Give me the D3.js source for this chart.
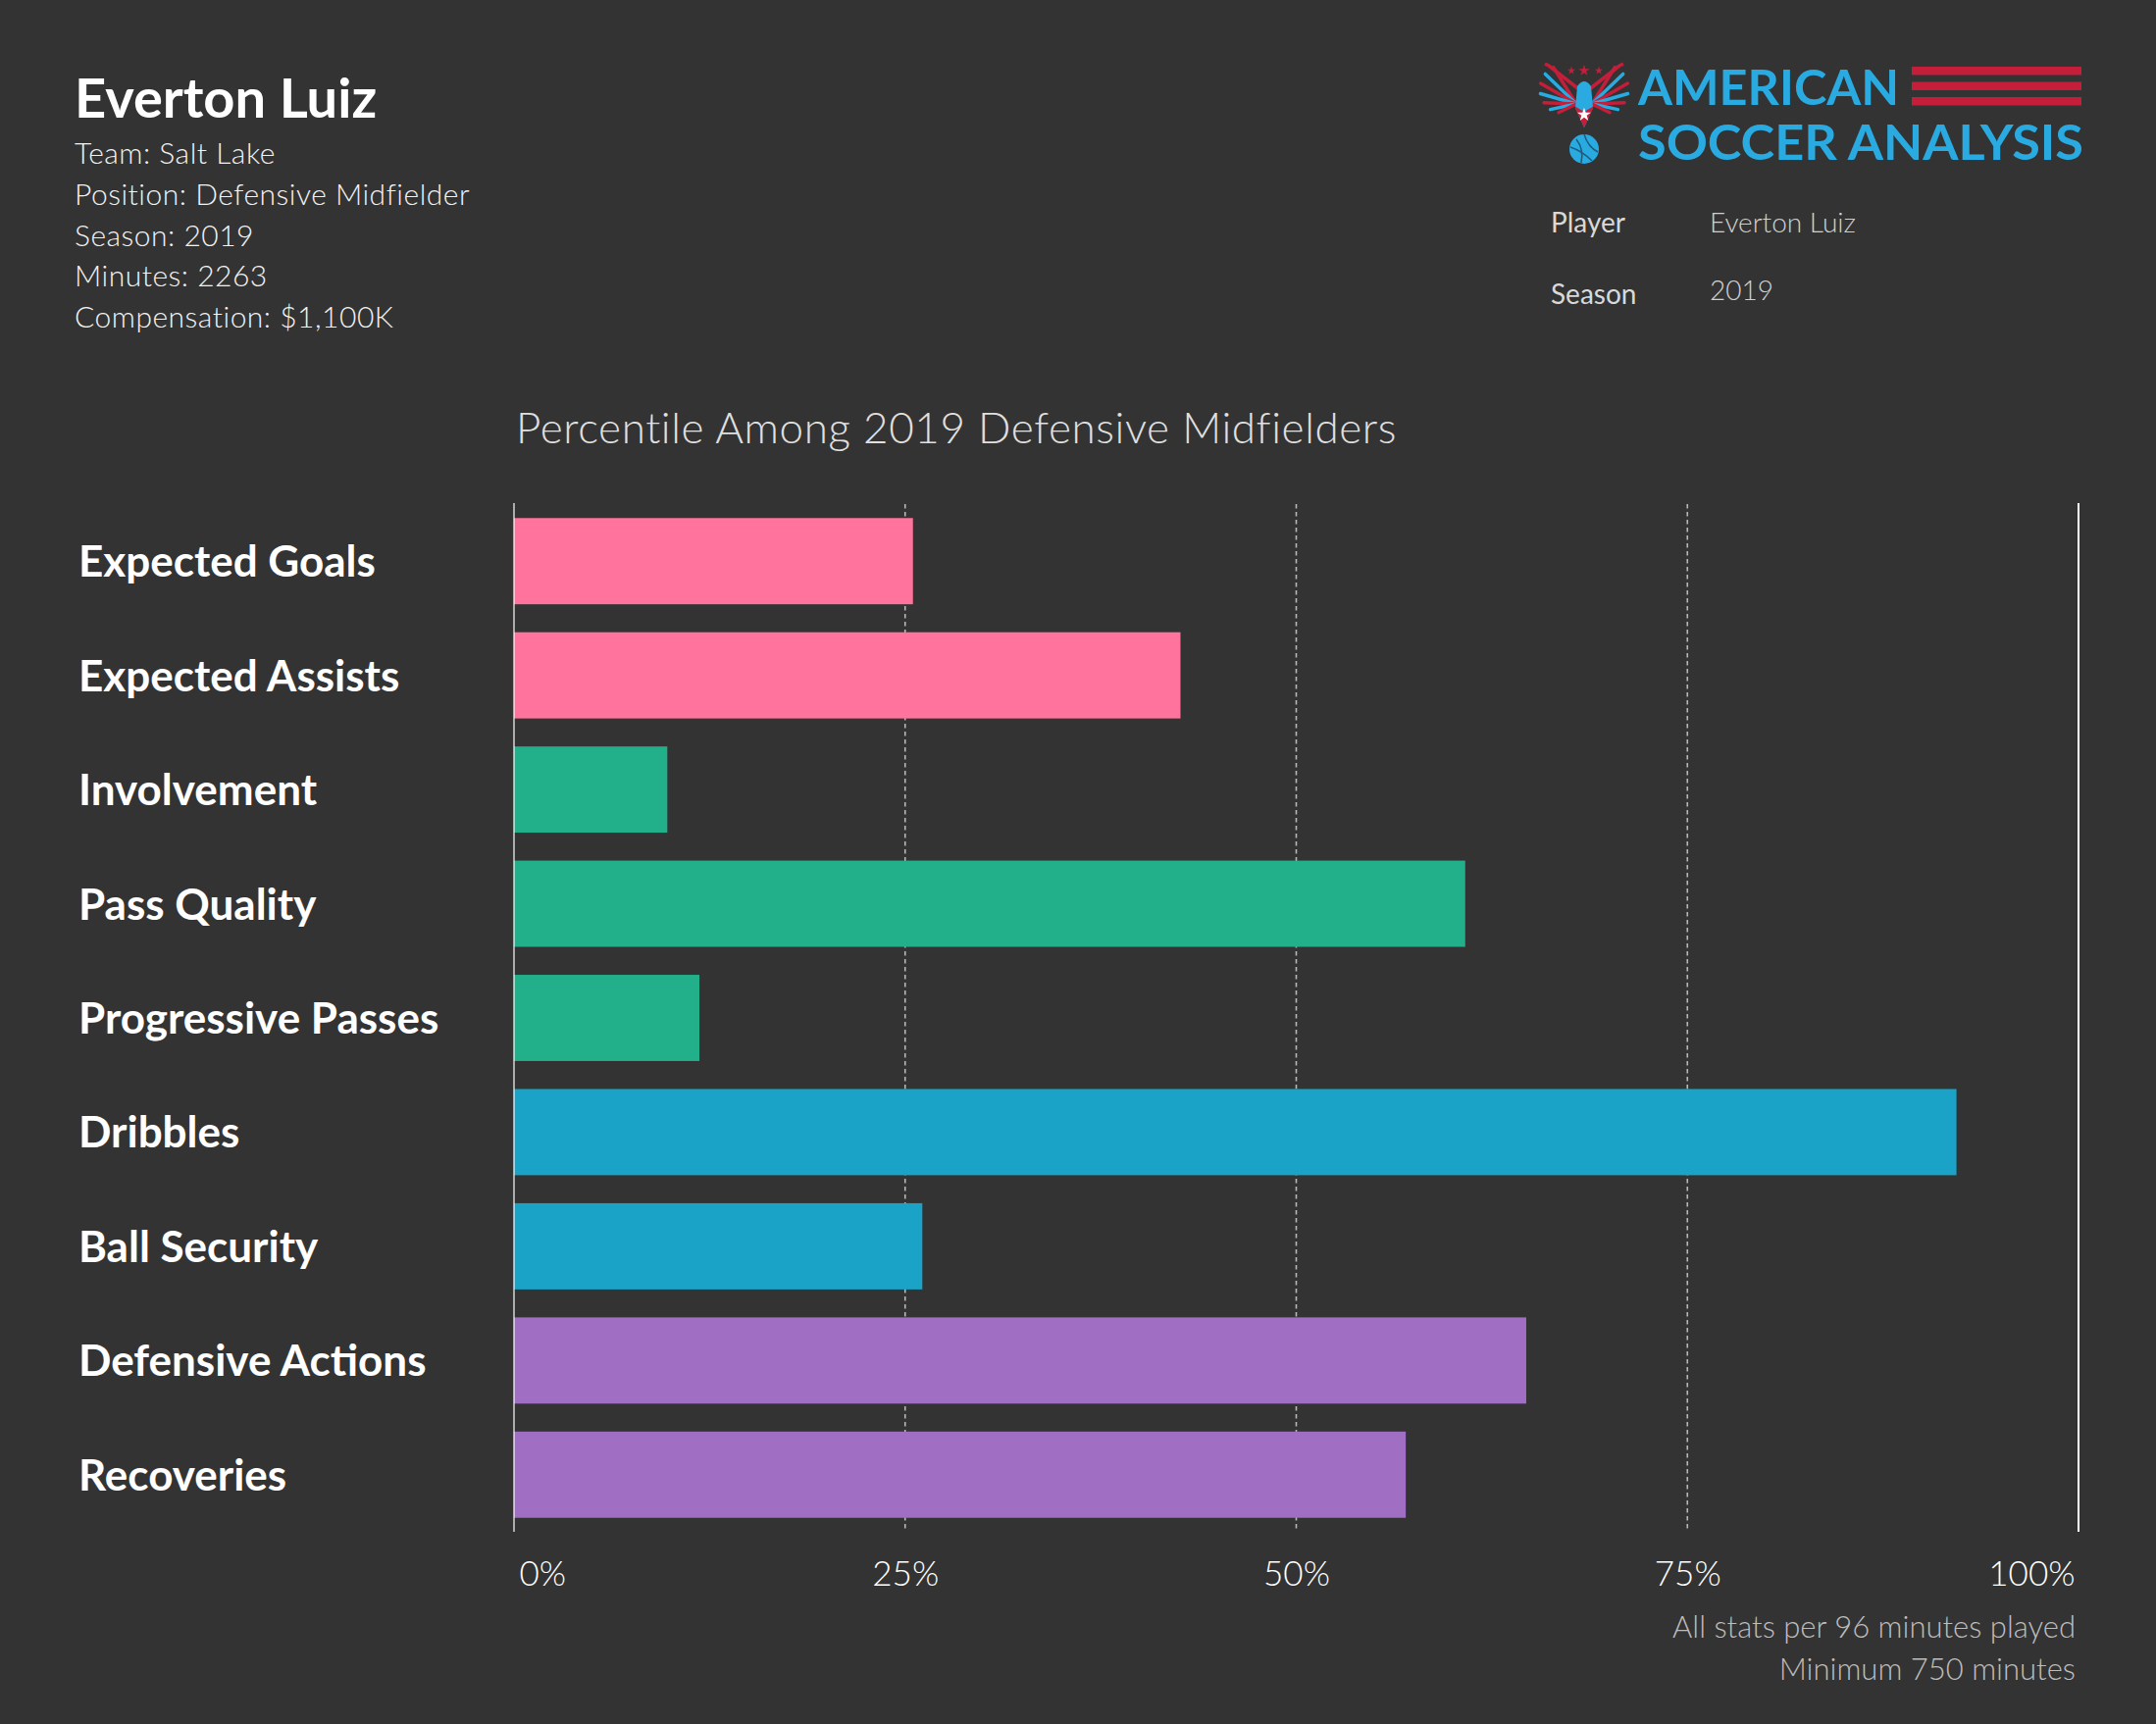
<!DOCTYPE html>
<html>
<head>
<meta charset="utf-8">
<script src="https://cdn.jsdelivr.net/npm/d3@7"></script>
<style>
  html, body { margin: 0; padding: 0; background: #333333; }
  svg { display: block; }
  text { font-family: Lato, "Open Sans", sans-serif; }
</style>
</head>
<body>
<svg id="chart" width="2198" height="1758"></svg>
<script>
// ---- data ----
const categories = ["Expected Goals", "Expected Assists", "Involvement", "Pass Quality",
  "Progressive Passes", "Dribbles", "Ball Security", "Defensive Actions", "Recoveries"];
const percentiles = [25.5, 42.6, 9.8, 60.8, 11.85, 92.2, 26.1, 64.7, 57.0];
const groups = ["Shooting", "Shooting", "Passing", "Passing", "Passing",
  "Dribbling", "Dribbling", "Defending", "Defending"];
const groupNames = ["Shooting", "Passing", "Dribbling", "Defending"];
const groupColors = ["#ff739c", "#22b08a", "#1aa3c7", "#a06fc4"];
const tickValues = [0, 25, 50, 75, 100];
const tickLabels = ["0%", "25%", "50%", "75%", "100%"];
const playerName = "Everton Luiz";
const infoLines = ["Team: Salt Lake", "Position: Defensive Midfielder", "Season: 2019",
  "Minutes: 2263", "Compensation: $1,100K"];
const filterRows = [["Player", "Everton Luiz"], ["Season", "2019"]];
const chartTitle = "Percentile Among 2019 Defensive Midfielders";
const footnotes = ["All stats per 96 minutes played", "Minimum 750 minutes"];

// ---- layout ----
const svg = d3.select("#chart");
const x = d3.scaleLinear().domain([0, 100]).range([524, 2119]);
const y = d3.scaleBand().domain(categories).range([514, 1562]).paddingInner(0.245).paddingOuter(0.1225);
const color = d3.scaleOrdinal().domain(groupNames).range(groupColors);

// header left
svg.append("text").attr("x", 76).attr("y", 120)
  .attr("font-size", 56).attr("font-weight", 700).attr("fill", "#ffffff").text(playerName);
svg.append("g").selectAll("text").data(infoLines).join("text")
  .attr("x", 76).attr("y", (d, i) => 167 + i * 41.8)
  .attr("font-size", 30).attr("font-weight", 300).attr("letter-spacing", 0.5)
  .attr("fill", "#f2f2f2").text(d => d);

// filter rows (right)
const fr = svg.append("g");
fr.selectAll("text.k").data(filterRows).join("text").attr("class", "k")
  .attr("x", 1581).attr("y", (d, i) => i === 0 ? 237 : 310)
  .attr("font-size", 28).attr("fill", "#d9d9d9").text(d => d[0]);
fr.selectAll("text.v").data(filterRows).join("text").attr("class", "v")
  .attr("x", 1743).attr("y", (d, i) => i === 0 ? 237 : 306)
  .attr("font-size", 28).attr("font-weight", 300).attr("fill", "#d0d0d0").text(d => d[1]);

// logo
const logo = svg.append("g");
const blue = "#29abe2", red = "#c41e3a";
logo.append("text").attr("x", 1670).attr("y", 107).attr("font-size", 50).attr("font-weight", 700)
  .attr("fill", blue).attr("textLength", 266).attr("lengthAdjust", "spacingAndGlyphs").text("AMERICAN");
logo.append("text").attr("x", 1670).attr("y", 163).attr("font-size", 50).attr("font-weight", 700)
  .attr("fill", blue).attr("textLength", 454).attr("lengthAdjust", "spacingAndGlyphs").text("SOCCER ANALYSIS");
[68, 83.5, 99].forEach(yy => {
  logo.append("rect").attr("x", 1949).attr("y", yy).attr("width", 173).attr("height", 8.5).attr("fill", red);
});
// eagle
const eg = logo.append("g").attr("transform", "translate(1615,100)");
[-1, 1].forEach(s => {
  const feathers = [
    {a: -58, l: 44, c: red}, {a: -44, l: 44, c: blue}, {a: -30, l: 42, c: red},
    {a: -16, l: 38, c: blue}, {a: -2, l: 33, c: red}, {a: 12, l: 27, c: blue}, {a: 26, l: 20, c: red}
  ];
  feathers.forEach(f => {
    const ang = f.a * Math.PI / 180;
    const x0 = s * 8, y0 = 6;
    const x1 = x0 + s * Math.cos(ang) * f.l, y1 = y0 + Math.sin(ang) * f.l;
    eg.append("line").attr("x1", x0).attr("y1", y0).attr("x2", x1).attr("y2", y1)
      .attr("stroke", f.c).attr("stroke-width", 3.5).attr("stroke-linecap", "round");
  });
  eg.append("path").attr("d", `M${s*4},-8 L${s*36},-33 L${s*40},-35`).attr("stroke", red)
    .attr("stroke-width", 3.5).attr("fill", "none");
});
eg.append("path").attr("d", "M-7,-12 Q0,-22 7,-12 L9,10 L0,30 L-9,10 Z").attr("fill", blue);
eg.append("path").attr("d", "M-10,8 L0,30 L10,8 L0,14 Z").attr("fill", red);
eg.append("path").attr("d", d3.symbol().type(d3.symbolStar).size(60)()).attr("transform", "translate(0,17)").attr("fill", "#ffffff");
[-13, 0, 15].forEach((dx, i) => {
  eg.append("path").attr("d", d3.symbol().type(d3.symbolStar).size(i === 1 ? 40 : 22)())
    .attr("transform", `translate(${dx},-28)`).attr("fill", red);
});
eg.append("circle").attr("cx", 0).attr("cy", 52).attr("r", 15).attr("fill", blue);
eg.append("path").attr("d", "M-8,42 Q0,52 -3,66 M0,37 Q4,50 14,55 M-14,50 Q-2,54 8,64")
  .attr("stroke", "#1a5f80").attr("stroke-width", 1.6).attr("fill", "none");

// chart title
svg.append("text").attr("x", 526).attr("y", 452).attr("font-size", 44).attr("font-weight", 300)
  .attr("letter-spacing", 0.6).attr("fill", "#e0e0e0").text(chartTitle);

// gridlines
svg.append("g").selectAll("line").data(tickValues.filter(t => t > 0 && t < 100)).join("line")
  .attr("x1", d => x(d)).attr("x2", d => x(d)).attr("y1", 514).attr("y2", 1562)
  .attr("stroke", "#b8b8b8").attr("stroke-width", 1.6).attr("stroke-dasharray", "4.5,3.5");

// bars
svg.append("g").selectAll("rect").data(categories).join("rect")
  .attr("x", x(0)).attr("y", d => y(d))
  .attr("width", (d, i) => x(percentiles[i]) - x(0))
  .attr("height", y.bandwidth())
  .attr("fill", (d, i) => color(groups[i]));

// axis lines
svg.append("line").attr("x1", x(0)).attr("x2", x(0)).attr("y1", 513).attr("y2", 1562)
  .attr("stroke", "#ffffff").attr("stroke-width", 1.2);
svg.append("line").attr("x1", x(100)).attr("x2", x(100)).attr("y1", 513).attr("y2", 1562)
  .attr("stroke", "#ffffff").attr("stroke-width", 2);

// category labels
const yAxis = d3.axisLeft(y).tickSize(0).tickPadding(0);
const ya = svg.append("g").attr("transform", "translate(80,0)").call(yAxis);
ya.select(".domain").remove();
ya.selectAll(".tick text").attr("x", 0).attr("dy", null).attr("y", 16)
  .attr("text-anchor", "start").attr("font-family", "Lato, sans-serif")
  .attr("font-size", 44).attr("font-weight", 700).attr("fill", "#ffffff");

// x axis
const xAxis = d3.axisBottom(x).tickValues(tickValues).tickSize(0).tickPadding(0)
  .tickFormat((d, i) => tickLabels[i]);
const xa = svg.append("g").attr("transform", "translate(0,1617)").call(xAxis);
xa.select(".domain").remove();
xa.selectAll(".tick text").attr("dy", null).attr("y", 0)
  .attr("font-family", "Lato, sans-serif").attr("font-size", 35).attr("font-weight", 300)
  .attr("fill", "#ffffff")
  .attr("text-anchor", (d, i) => i === 0 ? "start" : (i === tickValues.length - 1 ? "end" : "middle"))
  .attr("x", (d, i) => i === 0 ? 5 : (i === tickValues.length - 1 ? -4 : 0));

// footnotes
svg.append("g").selectAll("text").data(footnotes).join("text")
  .attr("x", 2116).attr("y", (d, i) => 1670 + i * 43).attr("text-anchor", "end")
  .attr("font-size", 31).attr("font-weight", 300).attr("fill", "#bdbdbd").text(d => d);
</script>
</body>
</html>
